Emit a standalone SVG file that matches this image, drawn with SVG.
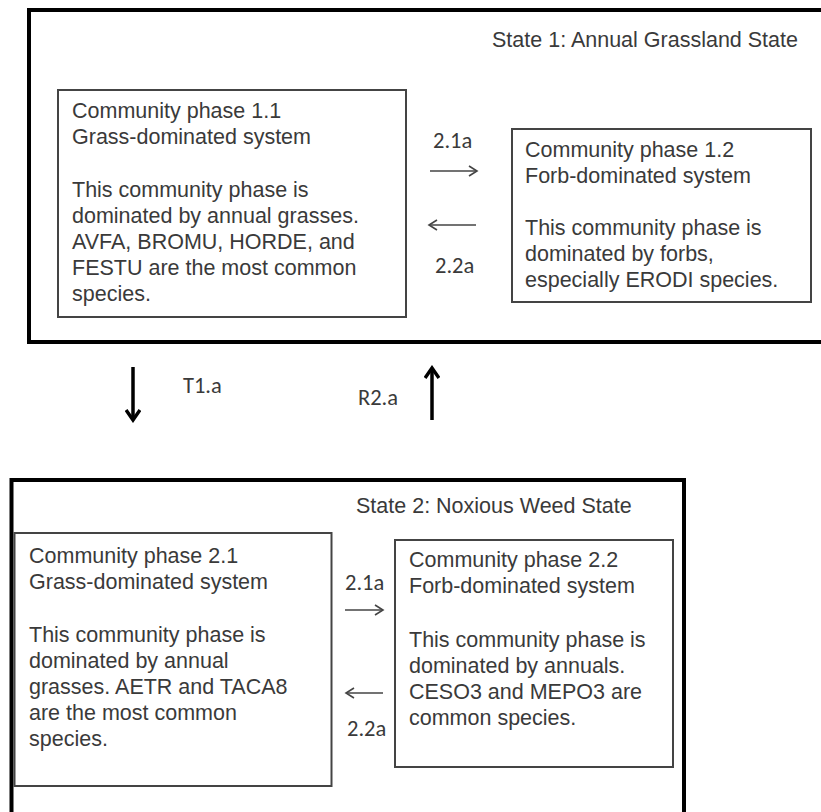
<svg xmlns="http://www.w3.org/2000/svg" width="821" height="812" viewBox="0 0 821 812">
<style>
.state{fill:none;stroke:#000;stroke-width:4}
.phase{fill:#fff;stroke:#444;stroke-width:2}
.t{font-family:"Liberation Sans",Arial,sans-serif;font-size:21.5px;fill:#3a3a3a}
.lbl{font-family:"Carlito","Liberation Sans",Arial,sans-serif;font-size:22.5px;fill:#3a3a3a}
.thin{stroke:#444;stroke-width:1.6;fill:none}
.thick{stroke:#000;stroke-width:3.5;fill:none}
</style>
<defs>
<marker id="hThin" markerWidth="12" markerHeight="12" refX="10" refY="6" orient="auto" markerUnits="userSpaceOnUse">
<path d="M2,1 L10,6 L2,11" fill="none" stroke="#444" stroke-width="1.6"/>
</marker>
<marker id="hThick" markerWidth="16" markerHeight="16" refX="13" refY="8" orient="auto" markerUnits="userSpaceOnUse">
<path d="M3,1 L13,8 L3,15" fill="none" stroke="#000" stroke-width="3.5"/>
</marker>
</defs>
<rect width="821" height="812" fill="#fff"/>

<g id="state1">
<rect class="state" x="29" y="10" width="820" height="332"/>
<text class="t" x="492" y="47">State 1: Annual  Grassland State</text>
</g>

<g id="phase11">
<rect class="phase" x="58" y="90" width="348" height="227"/>
<text class="t" x="72" y="118">Community phase 1.1</text>
<text class="t" x="72" y="144">Grass-dominated system</text>
<text class="t" x="72" y="197">This community phase is</text>
<text class="t" x="72" y="223">dominated by annual grasses.</text>
<text class="t" x="72" y="249">AVFA, BROMU, HORDE, and</text>
<text class="t" x="72" y="275">FESTU are the most common</text>
<text class="t" x="72" y="301">species.</text>
</g>

<g id="phase12">
<rect class="phase" x="512" y="129" width="299" height="173"/>
<text class="t" x="525" y="157">Community phase 1.2</text>
<text class="t" x="525" y="183">Forb-dominated system</text>
<text class="t" x="525" y="235">This community phase is</text>
<text class="t" x="525" y="261">dominated by forbs,</text>
<text class="t" x="525" y="287">especially ERODI species.</text>
</g>

<g id="state2">
<rect class="state" x="11.5" y="480" width="672.5" height="360"/>
<text class="t" x="356" y="513">State 2: Noxious Weed State</text>
</g>

<g id="phase21">
<rect class="phase" x="14.5" y="533" width="317" height="253"/>
<text class="t" x="29" y="563">Community phase 2.1</text>
<text class="t" x="29" y="589">Grass-dominated system</text>
<text class="t" x="29" y="642">This community phase is</text>
<text class="t" x="29" y="668">dominated by annual</text>
<text class="t" x="29" y="694">grasses. AETR and TACA8</text>
<text class="t" x="29" y="720">are the most common</text>
<text class="t" x="29" y="746">species.</text>
</g>

<g id="phase22">
<rect class="phase" x="395" y="540" width="278" height="227"/>
<text class="t" x="409" y="567">Community phase 2.2</text>
<text class="t" x="409" y="593">Forb-dominated system</text>
<text class="t" x="409" y="647">This community phase is</text>
<text class="t" x="409" y="673">dominated by annuals.</text>
<text class="t" x="409" y="699">CESO3 and MEPO3 are</text>
<text class="t" x="409" y="725">common species.</text>
</g>

<g id="connectors">
<line class="thin" x1="430" y1="171" x2="477" y2="171" marker-end="url(#hThin)"/>
<text class="lbl" x="433" y="148">2.1a</text>
<line class="thin" x1="476" y1="225" x2="429" y2="225" marker-end="url(#hThin)"/>
<text class="lbl" x="435" y="273">2.2a</text>

<line class="thick" x1="133" y1="367" x2="133" y2="420" marker-end="url(#hThick)"/>
<text class="lbl" x="183" y="393">T1.a</text>
<line class="thick" x1="432" y1="420" x2="432" y2="368" marker-end="url(#hThick)"/>
<text class="lbl" x="358" y="405">R2.a</text>

<line class="thin" x1="345" y1="610" x2="383" y2="610" marker-end="url(#hThin)"/>
<text class="lbl" x="345" y="590">2.1a</text>
<line class="thin" x1="383" y1="693" x2="346" y2="693" marker-end="url(#hThin)"/>
<text class="lbl" x="347" y="736">2.2a</text>
</g>
</svg>
